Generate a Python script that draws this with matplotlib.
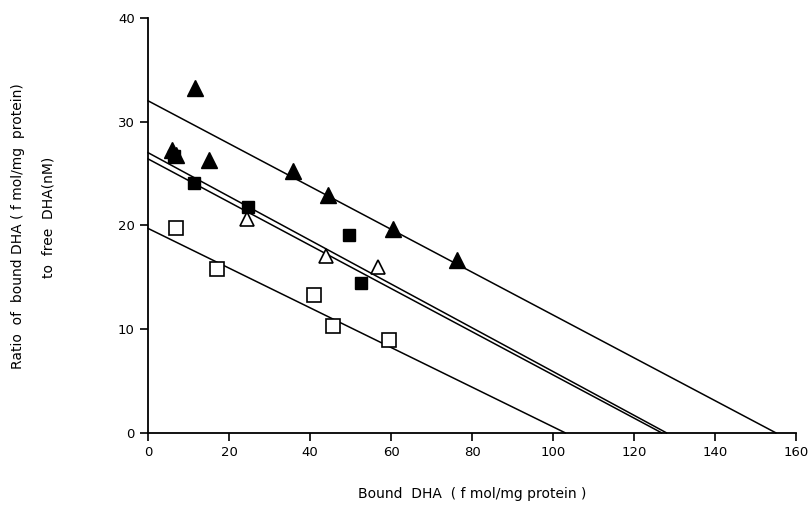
import matplotlib
matplotlib.use("Agg")
import matplotlib.pyplot as plt

# filled triangles
tri_f_x = [11.6, 6.0, 6.8, 15.0, 35.7, 44.5, 60.5, 76.3]
tri_f_y = [33.2, 27.3, 26.8, 26.3, 25.2, 22.9, 19.6, 16.7]

# filled squares
sq_f_x = [6.3, 11.4, 24.6, 49.6, 52.5]
sq_f_y = [26.7, 24.1, 21.8, 19.1, 14.4]

# open triangles
tri_o_x = [24.4, 43.9, 56.9]
tri_o_y = [20.6, 17.0, 16.0]

# open squares
sq_o_x = [6.8, 17.0, 41.0, 45.6, 59.6]
sq_o_y = [19.7, 15.8, 13.3, 10.3, 8.9]

# regression lines: y-intercept and x-intercept
line_y0 = [32.0, 27.0, 26.4, 19.7]
line_x0 = [155.0, 128.0, 126.8, 103.0]

xticks = [0, 20, 40, 60, 80, 100, 120, 140, 160]
yticks = [0, 10, 20, 30, 40]

fig = plt.figure(figsize=(8.09, 5.08), dpi=100)
ax = fig.add_axes([0.183, 0.148, 0.801, 0.817])

for y0, x0 in zip(line_y0, line_x0):
    ax.plot([0, x0], [y0, 0], color='black', lw=1.1, clip_on=False)

ax.plot(sq_f_x, sq_f_y, 's', ms=9, mfc='black', mec='black', ls='none', clip_on=False)
ax.plot(tri_f_x, tri_f_y, '^', ms=11, mfc='black', mec='black', ls='none', clip_on=False)
ax.plot(tri_o_x, tri_o_y, '^', ms=10, mfc='white', mec='black', mew=1.2, ls='none', clip_on=False)
ax.plot(sq_o_x, sq_o_y, 's', ms=10, mfc='white', mec='black', mew=1.2, ls='none', clip_on=False)

ax.set_xlim(0, 160)
ax.set_ylim(0, 40)
ax.set_xticks(xticks)
ax.set_yticks(yticks)
ax.spines['top'].set_visible(False)
ax.spines['right'].set_visible(False)
ax.spines['left'].set_linewidth(1.3)
ax.spines['bottom'].set_linewidth(1.3)
ax.tick_params(direction='out', length=6, width=1.2, labelsize=9.5)

ax.set_xlabel('Bound  DHA  ( f mol/mg protein )', fontsize=10, labelpad=20)
fig.text(0.022, 0.555, 'Ratio  of  bound DHA ( f mol/mg  protein)', rotation=90,
         ha='center', va='center', fontsize=10)
fig.text(0.06, 0.572, 'to  free  DHA(nM)', rotation=90,
         ha='center', va='center', fontsize=10)

fig.savefig('out.png', dpi=100)
